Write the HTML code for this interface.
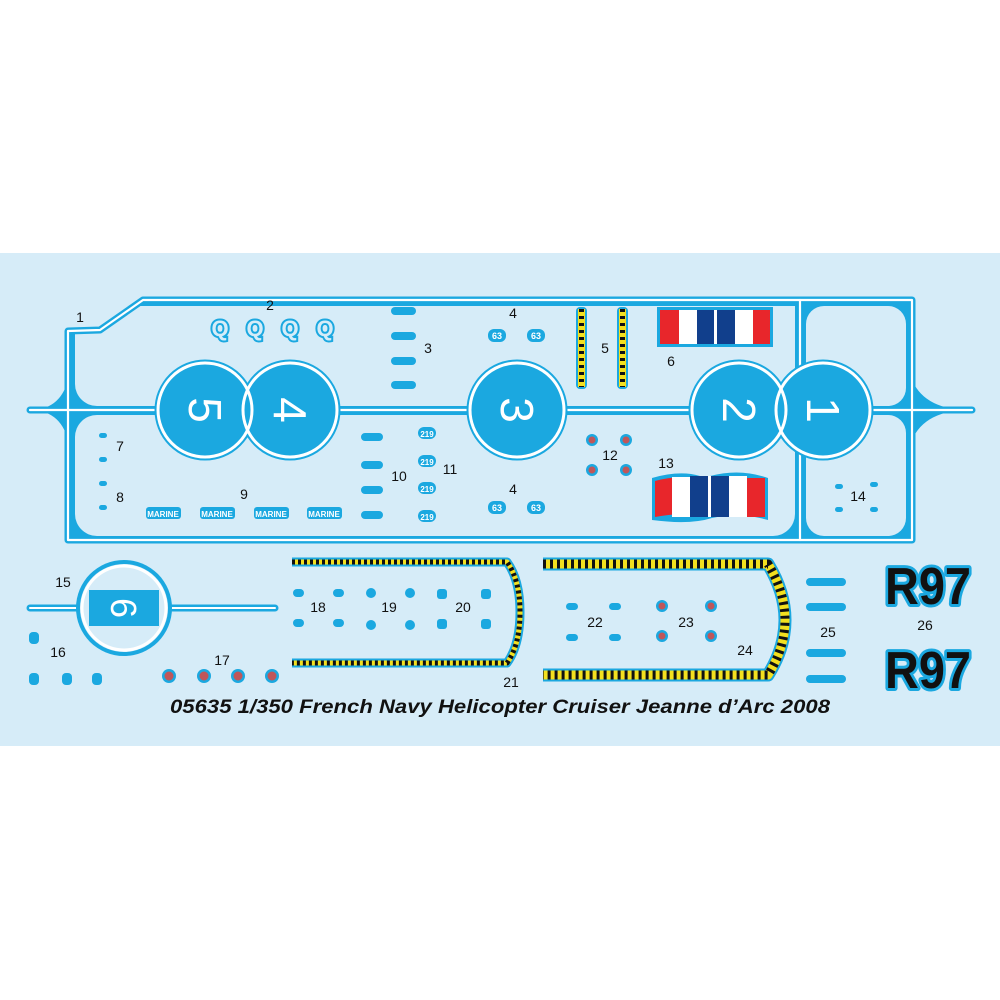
<!DOCTYPE html>
<html><head><meta charset="utf-8"><style>
html,body{margin:0;padding:0;background:#fff;width:1000px;height:1000px;overflow:hidden}
svg{display:block}
text{font-family:"Liberation Sans",sans-serif}
</style></head><body>
<svg width="1000" height="1000" viewBox="0 0 1000 1000" xmlns="http://www.w3.org/2000/svg">
<rect x="0" y="253" width="1000" height="493" fill="#d6ecf8"/>
<path d="M66,330 L100,330 L143,298 L914,298 L914,542 L66,542 Z" fill="#1ba8e0"/>
<rect x="75" y="306" width="720" height="100" rx="22" fill="#d6ecf8"/>
<rect x="105" y="306" width="690" height="30" fill="#d6ecf8"/>
<rect x="75" y="415" width="720" height="121" rx="22" fill="#d6ecf8"/>
<rect x="806" y="306" width="100" height="100" rx="18" fill="#d6ecf8"/>
<rect x="806" y="415" width="100" height="121" rx="18" fill="#d6ecf8"/>
<path d="M30,410 Q60,410 68,380 L68,440 Q60,410 30,410Z" fill="#1ba8e0"/>
<path d="M970,410 Q925,410 912,380 L912,440 Q925,410 970,410Z" fill="#1ba8e0"/>
<g fill="none" stroke-linejoin="round" stroke-linecap="round">
<g stroke="#1ba8e0" stroke-width="7">
<path d="M68,540 L68,331 L100,330 L143,300 L912,300 L912,540 Z"/>
<path d="M30,410 H972"/>
<path d="M800,300 V540"/>
</g>
<g stroke="#fff" stroke-width="2.2">
<path d="M68,540 L68,331 L100,330 L143,300 L912,300 L912,540 Z"/>
<path d="M30,410 H972"/>
<path d="M800,300 V540"/>
</g>
</g>
<g fill="#1ba8e0" stroke="#1ba8e0" stroke-width="5">
<circle cx="205" cy="410" r="48"/><circle cx="290" cy="410" r="48"/>
<circle cx="517" cy="410" r="48"/>
<circle cx="739" cy="410" r="48"/><circle cx="823" cy="410" r="48"/>
</g>
<g stroke="#fff" stroke-width="3" fill="none">
<circle cx="205" cy="410" r="47"/><circle cx="290" cy="410" r="47"/>
<circle cx="517" cy="410" r="47"/>
<circle cx="739" cy="410" r="47"/><circle cx="823" cy="410" r="47"/>
</g>
<g fill="#fff" font-size="46" text-anchor="middle">
<text transform="translate(205,410) rotate(90)" y="16">5</text>
<text transform="translate(290,410) rotate(90)" y="16">4</text>
<text transform="translate(517,410) rotate(90)" y="16">3</text>
<text transform="translate(739,410) rotate(90)" y="16">2</text>
<text transform="translate(823,410) rotate(90)" y="16">1</text>
</g>
<g font-size="14" fill="#111" text-anchor="middle">
<text x="80" y="322">1</text><text x="270" y="310">2</text><text x="428" y="353">3</text>
<text x="513" y="318">4</text><text x="513" y="494">4</text><text x="605" y="353">5</text><text x="671" y="366">6</text>
<text x="120" y="451">7</text><text x="120" y="502">8</text><text x="244" y="499">9</text><text x="399" y="481">10</text>
<text x="450" y="474">11</text><text x="610" y="460">12</text><text x="666" y="468">13</text><text x="858" y="501">14</text>
<text x="63" y="587">15</text><text x="58" y="657">16</text><text x="222" y="665">17</text><text x="318" y="612">18</text>
<text x="389" y="612">19</text><text x="463" y="612">20</text><text x="511" y="687">21</text><text x="595" y="627">22</text>
<text x="686" y="627">23</text><text x="745" y="655">24</text><text x="828" y="637">25</text><text x="925" y="630">26</text>
</g>
<g font-size="22" font-weight="bold" fill="#d6ecf8" stroke="#1ba8e0" stroke-width="4" paint-order="stroke" text-anchor="middle">
<text x="220" y="336">Q</text><text x="255" y="336">Q</text><text x="290" y="336">Q</text><text x="325" y="336">Q</text>
</g>
<g fill="#1ba8e0">
<rect x="391" y="307" width="25" height="8" rx="4"/><rect x="391" y="332" width="25" height="8" rx="4"/><rect x="391" y="357" width="25" height="8" rx="4"/><rect x="391" y="381" width="25" height="8" rx="4"/>
<rect x="361" y="433" width="22" height="8" rx="4"/><rect x="361" y="461" width="22" height="8" rx="4"/><rect x="361" y="486" width="22" height="8" rx="4"/><rect x="361" y="511" width="22" height="8" rx="4"/>
<rect x="146" y="507" width="35" height="12" rx="3"/><rect x="200" y="507" width="35" height="12" rx="3"/><rect x="254" y="507" width="35" height="12" rx="3"/><rect x="307" y="507" width="35" height="12" rx="3"/>
<rect x="418" y="427" width="18" height="12" rx="6"/><rect x="418" y="455" width="18" height="12" rx="6"/><rect x="418" y="482" width="18" height="12" rx="6"/><rect x="418" y="510" width="18" height="12" rx="6"/>
<rect x="488" y="329" width="18" height="13" rx="6"/><rect x="527" y="329" width="18" height="13" rx="6"/><rect x="488" y="501" width="18" height="13" rx="6"/><rect x="527" y="501" width="18" height="13" rx="6"/>
<rect x="99" y="433" width="8" height="5" rx="2.5"/><rect x="99" y="457" width="8" height="5" rx="2.5"/><rect x="99" y="481" width="8" height="5" rx="2.5"/><rect x="99" y="505" width="8" height="5" rx="2.5"/>
<rect x="835" y="484" width="8" height="5" rx="2.5"/><rect x="870" y="482" width="8" height="5" rx="2.5"/><rect x="835" y="507" width="8" height="5" rx="2.5"/><rect x="870" y="507" width="8" height="5" rx="2.5"/>
<rect x="806" y="578" width="40" height="8" rx="4"/><rect x="806" y="603" width="40" height="8" rx="4"/><rect x="806" y="649" width="40" height="8" rx="4"/><rect x="806" y="675" width="40" height="8" rx="4"/>
<rect x="293" y="589" width="11" height="8" rx="4"/><rect x="333" y="589" width="11" height="8" rx="4"/><rect x="293" y="619" width="11" height="8" rx="4"/><rect x="333" y="619" width="11" height="8" rx="4"/>
<rect x="437" y="589" width="10" height="10" rx="3"/><rect x="481" y="589" width="10" height="10" rx="3"/><rect x="437" y="619" width="10" height="10" rx="3"/><rect x="481" y="619" width="10" height="10" rx="3"/>
<rect x="566" y="603" width="12" height="7" rx="3.5"/><rect x="609" y="603" width="12" height="7" rx="3.5"/><rect x="566" y="634" width="12" height="7" rx="3.5"/><rect x="609" y="634" width="12" height="7" rx="3.5"/>
<rect x="29" y="632" width="10" height="12" rx="4"/><rect x="29" y="673" width="10" height="12" rx="4"/><rect x="62" y="673" width="10" height="12" rx="4"/><rect x="92" y="673" width="10" height="12" rx="4"/>
</g>
<g fill="#fff" font-size="8" font-weight="bold" text-anchor="middle">
<text x="163" y="517">MARINE</text><text x="217" y="517">MARINE</text><text x="271" y="517">MARINE</text><text x="324" y="517">MARINE</text>
<text x="427" y="437">219</text><text x="427" y="465">219</text><text x="427" y="492">219</text><text x="427" y="520">219</text>
<text x="497" y="339" font-size="9">63</text><text x="536" y="339" font-size="9">63</text><text x="497" y="511" font-size="9">63</text><text x="536" y="511" font-size="9">63</text>
</g>
<g>
<g fill="#1ba8e0"><circle cx="592" cy="440" r="6"/><circle cx="626" cy="440" r="6"/><circle cx="592" cy="470" r="6"/><circle cx="626" cy="470" r="6"/>
<circle cx="371" cy="593" r="5"/><circle cx="410" cy="593" r="5"/><circle cx="371" cy="625" r="5"/><circle cx="410" cy="625" r="5"/>
<circle cx="662" cy="606" r="6"/><circle cx="711" cy="606" r="6"/><circle cx="662" cy="636" r="6"/><circle cx="711" cy="636" r="6"/>
<circle cx="169" cy="676" r="7"/><circle cx="204" cy="676" r="7"/><circle cx="238" cy="676" r="7"/><circle cx="272" cy="676" r="7"/></g>
<g fill="#c0565a"><circle cx="592" cy="440" r="3.5"/><circle cx="626" cy="440" r="3.5"/><circle cx="592" cy="470" r="3.5"/><circle cx="626" cy="470" r="3.5"/>
<circle cx="662" cy="606" r="3.5"/><circle cx="711" cy="606" r="3.5"/><circle cx="662" cy="636" r="3.5"/><circle cx="711" cy="636" r="3.5"/>
<circle cx="169" cy="676" r="4.5"/><circle cx="204" cy="676" r="4.5"/><circle cx="238" cy="676" r="4.5"/><circle cx="272" cy="676" r="4.5"/></g>
</g>
<g><rect x="576" y="307" width="11" height="82" rx="4" fill="#1ba8e0"/><rect x="578" y="309" width="7" height="78" fill="#f3e01f"/>
<line x1="581.5" y1="309" x2="581.5" y2="387" stroke="#111" stroke-width="5" stroke-dasharray="3 4"/>
<rect x="617" y="307" width="11" height="82" rx="4" fill="#1ba8e0"/><rect x="619" y="309" width="7" height="78" fill="#f3e01f"/>
<line x1="622.5" y1="309" x2="622.5" y2="387" stroke="#111" stroke-width="5" stroke-dasharray="3 4"/></g>
<rect x="657" y="307" width="116" height="40" fill="#1ba8e0"/>
<rect x="660" y="310" width="19" height="34" fill="#e8262b"/><rect x="679" y="310" width="18" height="34" fill="#fff"/><rect x="697" y="310" width="17" height="34" fill="#113f8c"/><rect x="714" y="310" width="3" height="34" fill="#fff"/><rect x="717" y="310" width="18" height="34" fill="#113f8c"/><rect x="735" y="310" width="18" height="34" fill="#fff"/><rect x="753" y="310" width="17" height="34" fill="#e8262b"/>
<g>
<path d="M652,478 Q680,470 700,476 Q715,480 710,476 Q740,468 768,478 L768,520 Q740,512 712,518 Q690,525 652,520Z" fill="#1ba8e0"/>
<path d="M655,481 Q680,474 700,480 L700,516 Q680,512 655,517Z" fill="#e8262b"/>
<rect x="672" y="477" width="18" height="40" fill="#fff"/>
<rect x="690" y="476" width="18" height="41" fill="#113f8c"/><rect x="708" y="476" width="3" height="41" fill="#fff"/><rect x="711" y="476" width="18" height="41" fill="#113f8c"/>
<rect x="729" y="476" width="18" height="41" fill="#fff"/><rect x="747" y="478" width="18" height="39" fill="#e8262b"/>
</g>
<g fill="none" stroke-linecap="round"><path d="M30,608 H275" stroke="#1ba8e0" stroke-width="7"/><path d="M30,608 H275" stroke="#fff" stroke-width="2"/></g>
<circle cx="124" cy="608" r="48" fill="#1ba8e0"/><circle cx="124" cy="608" r="44" fill="#d6ecf8"/>
<circle cx="124" cy="608" r="42" fill="none" stroke="#fff" stroke-width="3"/>
<rect x="89" y="590" width="70" height="36" fill="#1ba8e0"/>
<text transform="translate(124,608) rotate(90)" y="13" font-size="36" fill="#fff" text-anchor="middle">6</text>
<g fill="none" stroke-linejoin="round">
<path d="M292,562 H507 Q520,580 520,612 Q520,645 507,663 H292" stroke="#1ba8e0" stroke-width="9"/>
<path d="M292,562 H507 Q520,580 520,612 Q520,645 507,663 H292" stroke="#f3e01f" stroke-width="5"/>
<path d="M292,562 H507 Q520,580 520,612 Q520,645 507,663 H292" stroke="#111" stroke-width="5" stroke-dasharray="3 3"/>
<path d="M543,564 H768 Q785,592 785,620 Q785,648 768,675 H543" stroke="#1ba8e0" stroke-width="13"/>
<path d="M543,564 H768 Q785,592 785,620 Q785,648 768,675 H543" stroke="#f3e01f" stroke-width="9"/>
<path d="M543,564 H768 Q785,592 785,620 Q785,648 768,675 H543" stroke="#111" stroke-width="9" stroke-dasharray="3 4"/>
</g>
<g font-size="52" font-weight="bold" text-anchor="middle">
<g fill="#1ba8e0" stroke="#1ba8e0" stroke-width="6" stroke-linejoin="round">
<text x="928" y="604" textLength="86" lengthAdjust="spacingAndGlyphs">R97</text>
<text x="928" y="688" textLength="86" lengthAdjust="spacingAndGlyphs">R97</text></g>
<g fill="#111">
<text x="928" y="604" textLength="86" lengthAdjust="spacingAndGlyphs">R97</text>
<text x="928" y="688" textLength="86" lengthAdjust="spacingAndGlyphs">R97</text></g>
</g>
<text x="500" y="713" text-anchor="middle" font-size="19" font-weight="bold" font-style="italic" fill="#111" textLength="660" lengthAdjust="spacingAndGlyphs">05635 1/350  French Navy Helicopter Cruiser Jeanne d’Arc 2008</text>
</svg>
</body></html>
